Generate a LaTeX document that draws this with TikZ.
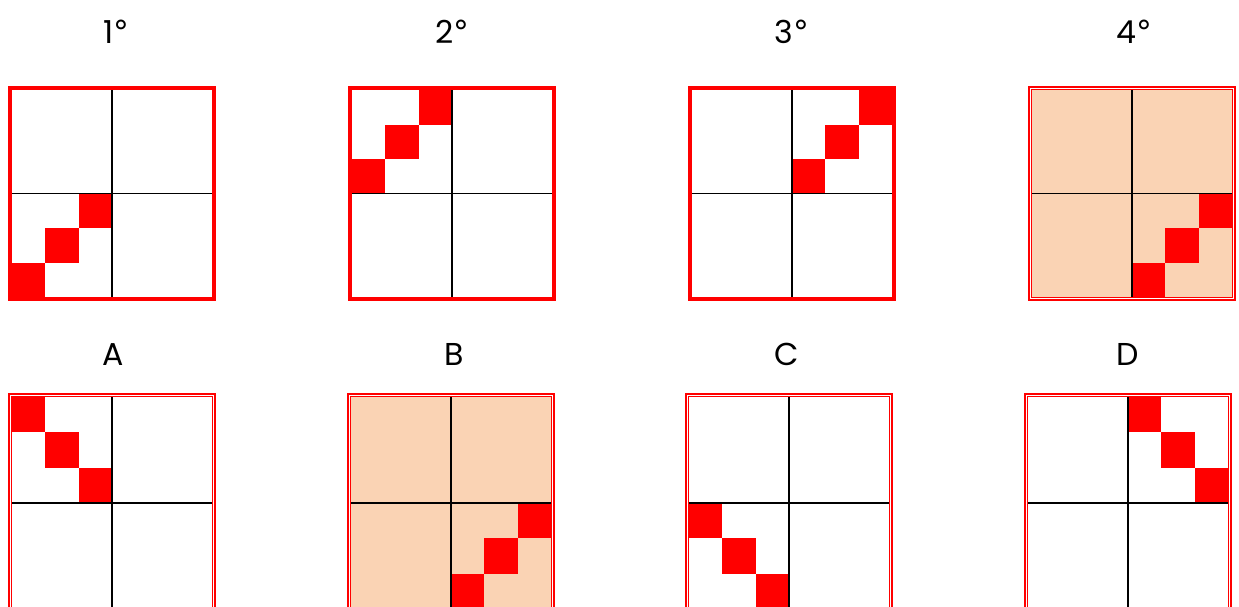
\documentclass[tikz,border=0pt]{standalone}
\usepackage{fontspec}
\setmainfont{Poppins}
\newfontfamily\degfont{DejaVu Sans}
\usetikzlibrary{positioning}
\definecolor{rouge}{HTML}{FF0000}
\definecolor{peche}{HTML}{FAD3B4}
\newcommand{\degre}{{\degfont °}}
\tikzset{
  cadre/.style={draw=rouge, line width=2.27pt},
  cadreext/.style={draw=rouge, line width=1.25pt},
  filet/.style={draw=rouge, line width=0.5pt},
  grille/.style={draw=black, line width=0.6pt},
  pion/.style={fill=rouge},
  titre/.style={font=\fontsize{18}{20}\selectfont, text=black, inner sep=0pt, anchor=base},
}
\begin{document}
\begin{tikzpicture}[x=0.02cm, y=-0.02cm]
\useasboundingbox (0,0) rectangle (1239,606);
\clip (0,0) rectangle (1239,606);
% panneaux : coin interieur / hauteur / quadrant / diagonale (0 montante, 1 descendante) / fond / double bord
\foreach \ix/\iy/\h/\qx/\qy/\dir/\fond/\dbl in {
    12/90/207/0/1/0/white/0,
    352/90/207/0/0/0/white/0,
    692/90/207/1/0/0/white/0,
    1032/90/207/1/1/0/peche/1,
    12/397/212/0/0/1/white/1,
    351/397/212/1/1/0/peche/1,
    689/397/212/0/1/1/white/1,
    1028/397/212/1/0/1/white/1}{
  \fill[\fond] (\ix,\iy) rectangle ++(200,\h);
  \foreach \k in {0,1,2}{
    \pgfmathsetmacro\lig{(1-\dir)*(2-\k)+\dir*\k}
    \fill[pion] (\ix+\qx*100+\k*33.33, \iy+\qy*\h/2+\lig*\h/6) rectangle ++(33.33,\h/6);
  }
  \draw[grille] (\ix+100,\iy) -- ++(0,\h);
  \draw[grille] (\ix,\iy+\h/2) -- ++(200,0);
  \ifnum\dbl=0
    \draw[cadre] (\ix-2,\iy-2) rectangle (\ix+202,\iy+\h+2);
  \else
    \draw[cadreext] (\ix-3.2,\iy-3.2) rectangle (\ix+203.2,\iy+\h+3.2);
    \draw[filet] (\ix-0.6,\iy-0.6) rectangle (\ix+200.6,\iy+\h+0.6);
  \fi
}
% titres
\foreach \x/\nom/\txt in {116/t1/1\degre, 452/t2/2\degre, 792/t3/3\degre, 1134/t4/4\degre}
  \node[titre] (\nom) at (\x,43) {\txt};
\foreach \x/\nom/\txt in {113/ta/A, 454/tb/B, 787/tc/C, 1128/td/D}
  \node[titre] (\nom) at (\x,365) {\txt};
\end{tikzpicture}
\end{document}
